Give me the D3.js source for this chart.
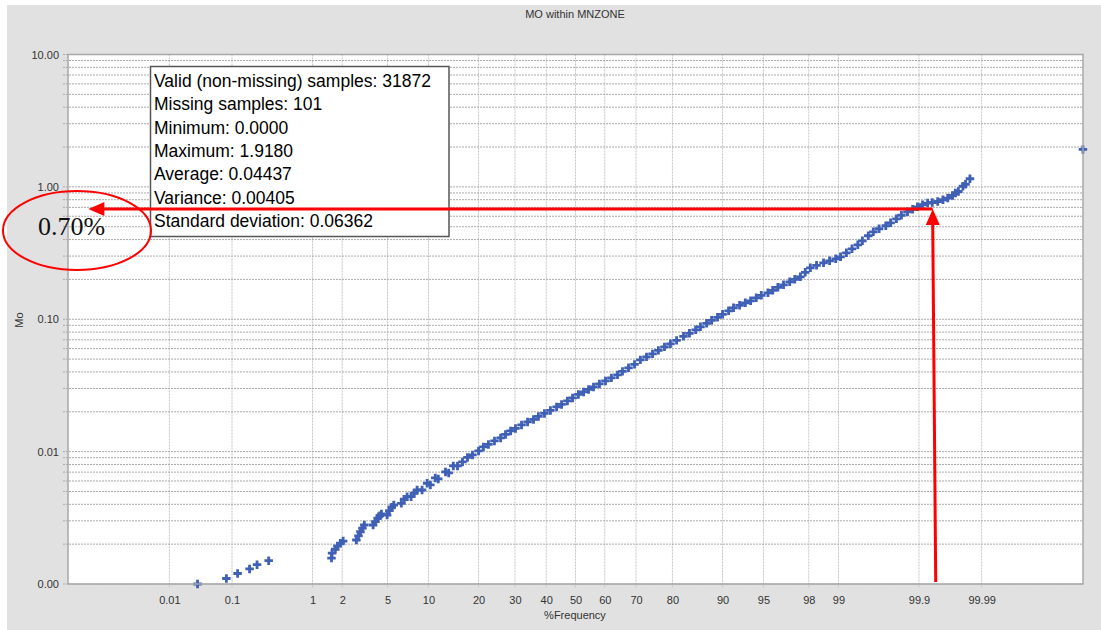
<!DOCTYPE html>
<html>
<head>
<meta charset="utf-8">
<script src="https://cdn.jsdelivr.net/npm/d3@7"></script>
<style>
  body { margin: 0; background: #fff; }
  text { font-family: Arial, "Liberation Sans", sans-serif; }
</style>
</head>
<body>
<svg id="chart" width="1101" height="630"></svg>
<script>
// %Frequency (cumulative) and Mo value
var freqPct = [0.03, 0.083, 0.12, 0.175, 0.22, 0.31,
  1.57, 1.59, 1.71, 1.80, 1.92, 2.04,
  2.71, 2.83, 2.95, 3.07, 3.19,
  3.80, 3.97, 4.15, 4.32, 4.46,
  4.96, 5.17, 5.40, 5.60,
  6.40, 6.72, 7.07,
  7.56, 7.96, 8.35,
  9.05, 9.80,
  10.3, 11.1,
  11.6, 12.9,
  13.5, 14.4,
  15.25, 16.3, 17.4, 18.55, 20.0, 21.2, 22.5, 24.1, 25.8, 27.2,
  28.7, 30.15, 32.0, 33.9, 35.8, 37.4, 39.4, 41.4, 43.5, 45.2,
  47.2, 49.0, 51.0, 52.8, 54.5, 56.2, 58.2, 60.25, 62.2, 64.2,
  65.8, 67.7, 69.55, 71.3, 73.1, 74.8, 76.4, 78.0, 79.5, 81.0,
  82.6, 83.9, 85.2, 86.15, 87.3, 88.2, 89.2, 90.0, 90.9, 91.6,
  92.4, 93.1, 93.7, 94.3, 94.8, 95.4, 95.8, 96.2, 96.6, 97.0,
  97.3, 97.6, 97.84, 98.07, 98.32, 98.57, 98.76, 98.93, 99.05, 99.18,
  99.29, 99.39, 99.46, 99.54, 99.60, 99.66, 99.72, 99.757, 99.796, 99.825,
  99.855, 99.877, 99.895, 99.911, 99.925, 99.936, 99.947, 99.956, 99.963, 99.969,
  99.972, 99.975, 99.979, 99.981, 99.984,
  99.999935];
var moValue = [0.0010, 0.0011, 0.0012, 0.0013, 0.0014, 0.0015,
  0.00157, 0.00171, 0.00183, 0.00194, 0.00203, 0.00211,
  0.00215, 0.00231, 0.00248, 0.00264, 0.00279,
  0.00279, 0.00296, 0.00314, 0.00328, 0.00338,
  0.00332, 0.00358, 0.0038, 0.00395,
  0.00407, 0.00437, 0.00457,
  0.00457, 0.00485, 0.00513,
  0.00513, 0.00577,
  0.0056, 0.00633,
  0.00622, 0.00703,
  0.0069, 0.0078,
  0.0078, 0.00836, 0.00904, 0.00944, 0.01012, 0.01085, 0.01134, 0.01205, 0.0127, 0.01349,
  0.01434, 0.01498, 0.01591, 0.01677, 0.01751, 0.01845, 0.01944, 0.02049, 0.02177, 0.02274,
  0.02416, 0.02546, 0.02705, 0.02826, 0.02952, 0.03083, 0.03249, 0.03423, 0.03607, 0.038,
  0.04039, 0.04293, 0.04562, 0.04933, 0.05197, 0.05476, 0.05819, 0.06185, 0.06517, 0.06925,
  0.07425, 0.07823, 0.08315, 0.08761, 0.09312, 0.09811, 0.1034, 0.1089, 0.1157, 0.122,
  0.1274, 0.133, 0.1377, 0.1451, 0.1516, 0.1583, 0.1654, 0.1742, 0.182, 0.1918,
  0.2003, 0.2092, 0.2262, 0.2446, 0.2555, 0.2669, 0.2763, 0.2861, 0.2963, 0.3176,
  0.3404, 0.365, 0.3914, 0.4271, 0.4577, 0.4825, 0.5082, 0.5354, 0.574, 0.6101,
  0.6483, 0.6771, 0.7072, 0.7323, 0.7543, 0.7622, 0.7755, 0.799, 0.8228, 0.861,
  0.8976, 0.923, 1.0104, 1.0464, 1.1513,
  1.918];

var xTicks = [0.01, 0.1, 1, 2, 5, 10, 20, 30, 40, 50, 60, 70, 80, 90, 95, 98, 99, 99.9, 99.99];
var yMajor = [0.001, 0.01, 0.1, 1, 10];

var statsLines = ["Valid (non-missing) samples: 31872", "Missing samples: 101", "Minimum: 0.0000",
  "Maximum: 1.9180", "Average: 0.04437", "Variance: 0.00405", "Standard deviation: 0.06362"];

// the red annotation: 0.70 reached at about 99.937 %
var markValue = 0.70;
var markPct = 99.937;
var arrowTipPct = 0.00021;
var markLabel = "0.70%";

var svg = d3.select("#chart");
var plotL = 68, plotR = 1083, plotT = 54.5, plotB = 584;

// inverse of the normal cdf (Acklam)
function normInv(p){
  var a = [-3.969683028665376e+01, 2.209460984245205e+02, -2.759285104469687e+02, 1.383577518672690e+02, -3.066479806614716e+01, 2.506628277459239e+00];
  var b = [-5.447609879822406e+01, 1.615858368580409e+02, -1.556989798598866e+02, 6.680131188771972e+01, -1.328068155288572e+01];
  var c = [-7.784894002430293e-03, -3.223964580411365e-01, -2.400758277161838e+00, -2.549732539343734e+00, 4.374664141464968e+00, 2.938163982698783e+00];
  var d = [7.784695709041462e-03, 3.224671290700398e-01, 2.445134137142996e+00, 3.754408661907416e+00];
  var q, r;
  if(p < 0.02425){
    q = Math.sqrt(-2*Math.log(p));
    return (((((c[0]*q+c[1])*q+c[2])*q+c[3])*q+c[4])*q+c[5]) / ((((d[0]*q+d[1])*q+d[2])*q+d[3])*q+1);
  }
  if(p > 1-0.02425){
    q = Math.sqrt(-2*Math.log(1-p));
    return -(((((c[0]*q+c[1])*q+c[2])*q+c[3])*q+c[4])*q+c[5]) / ((((d[0]*q+d[1])*q+d[2])*q+d[3])*q+1);
  }
  q = p-0.5; r = q*q;
  return (((((a[0]*r+a[1])*r+a[2])*r+a[3])*r+a[4])*r+a[5])*q / (((((b[0]*r+b[1])*r+b[2])*r+b[3])*r+b[4])*r+1);
}

// the program squeezes the tails a little
function probT(pct){
  var z = normInv(pct/100);
  return z - 0.003937*z*z*z;
}

var tMax = 4.394;
var xLin = d3.scaleLinear().domain([-tMax, tMax]).range([plotL, plotR]);
var x = function(pct){ return xLin(probT(pct)); };
var y = d3.scaleLog().domain([0.001, 10]).range([plotB, plotT]);

var yAll = [];
yMajor.slice(0, 4).forEach(function(m){
  for(var k=1;k<10;k++){ yAll.push(m*k); }
});
yAll.push(10);

// backgrounds
svg.append("rect").attr("x", 7).attr("y", 5).attr("width", 1094).attr("height", 625).attr("fill", "#e1e1e1");
svg.append("rect").attr("x", plotL).attr("y", plotT).attr("width", plotR-plotL).attr("height", plotB-plotT).attr("fill", "#fff");

svg.append("text").attr("x", 575).attr("y", 17.5).attr("text-anchor", "middle")
  .style("font-size", "11px").attr("fill", "#333").text("MO within MNZONE");

// grid
svg.append("g").selectAll("line").data(xTicks).enter().append("line")
  .attr("x1", function(d){ return x(d); }).attr("x2", function(d){ return x(d); })
  .attr("y1", plotT).attr("y2", plotB+4)
  .attr("stroke", "#c4c4c4").attr("stroke-dasharray", "2,1");

svg.append("g").selectAll("line").data(yAll).enter().append("line")
  .attr("x1", plotL-5).attr("x2", plotR)
  .attr("y1", function(d){ return y(d); }).attr("y2", function(d){ return y(d); })
  .attr("stroke", "#a9a9a9").attr("stroke-dasharray", "2,1");

// axes
var yAxis = d3.axisLeft(y).tickValues(yMajor).tickSize(0).tickPadding(9)
  .tickFormat(d3.format(".2f"));
var gy = svg.append("g").attr("transform", "translate(" + plotL + ",0)").call(yAxis);
gy.select(".domain").remove();
gy.selectAll("text").style("font-size", "11px").attr("fill", "#333").attr("font-family", "Arial, 'Liberation Sans', sans-serif");

var xAxis = d3.axisBottom(xLin).tickValues(xTicks.map(probT)).tickSize(0).tickPadding(12)
  .tickFormat(function(d, i){ return String(xTicks[i]); });
var gx = svg.append("g").attr("transform", "translate(0," + plotB + ")").call(xAxis);
gx.select(".domain").remove();
gx.selectAll("text").style("font-size", "11px").attr("fill", "#333").attr("font-family", "Arial, 'Liberation Sans', sans-serif");

svg.append("text").attr("x", 575).attr("y", 619).attr("text-anchor", "middle")
  .style("font-size", "11px").attr("fill", "#333").text("%Frequency");
svg.append("text").attr("transform", "translate(23,320) rotate(-90)").attr("text-anchor", "middle")
  .style("font-size", "11px").attr("fill", "#333").text("Mo");

// points
var pts = freqPct.map(function(p, i){ return {p: p, v: moValue[i]}; });
svg.append("g").selectAll("path").data(pts).enter().append("path")
  .attr("d", d3.symbol(d3.symbolCross, 40))
  .attr("transform", function(d){ return "translate(" + x(d.p) + "," + y(d.v) + ")"; })
  .attr("fill", "#3f60b5");

// plot frame
svg.append("rect").attr("x", plotL).attr("y", plotT).attr("width", plotR-plotL).attr("height", plotB-plotT)
  .attr("fill", "none").attr("stroke", "#a8a8a8").attr("stroke-width", 1.5);

// stats box
var box = svg.append("g").attr("transform", "translate(150.5,66.5)");
box.append("rect").attr("width", 298.5).attr("height", 170).attr("fill", "#fff")
  .attr("stroke", "#555").attr("stroke-width", 1.5);
box.selectAll("text").data(statsLines).enter().append("text")
  .attr("x", 3.5).attr("y", function(d, i){ return 20.5 + i*23.35; })
  .style("font-size", "17.5px").attr("fill", "#000").text(function(d){ return d; });

// red annotation
var red = "#ff0000";
var my = y(markValue) + 1.5, mx = x(markPct), ax = x(arrowTipPct);
svg.append("line").attr("x1", mx).attr("x2", ax+14).attr("y1", my).attr("y2", my)
  .attr("stroke", red).attr("stroke-width", 3);
svg.append("path").attr("d", "M" + ax + "," + my + "L" + (ax+16) + "," + (my-7) + "L" + (ax+16) + "," + (my+7) + "Z").attr("fill", red);
svg.append("line").attr("x1", mx+3).attr("x2", mx).attr("y1", plotB-2).attr("y2", my+14)
  .attr("stroke", red).attr("stroke-width", 3);
svg.append("path").attr("d", "M" + mx + "," + my + "L" + (mx-7) + "," + (my+16) + "L" + (mx+7) + "," + (my+16) + "Z").attr("fill", red);

svg.append("ellipse").attr("cx", 77).attr("cy", 230.5).attr("rx", 74).attr("ry", 39.5)
  .attr("fill", "none").attr("stroke", red).attr("stroke-width", 2);
svg.append("text").attr("x", 38).attr("y", 235).style("font-family", "'Liberation Serif', 'Times New Roman', serif")
  .style("font-size", "26px").attr("fill", "#111").text(markLabel);
</script>
</body>
</html>
